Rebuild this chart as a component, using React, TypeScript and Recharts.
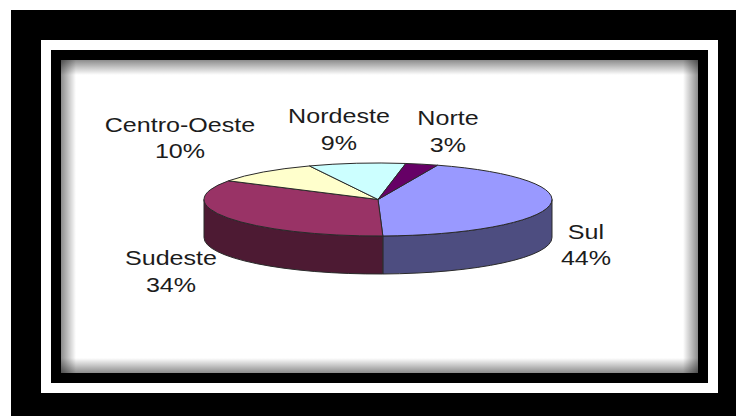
import React from "react";
import { PieChart, Pie } from "recharts";

// Regional shares, clockwise from the upper right of the disc
const regions = ["Sul", "Sudeste", "Centro-Oeste", "Nordeste", "Norte"];
const shares = [44, 34, 10, 9, 3];
const topColors = ["#9999FF", "#993366", "#FFFFCC", "#CCFFFF", "#660066"];
const sideColors = ["#4D4D80", "#4D1A33", "#80806A", "#6A8080", "#330033"];

const rows = regions.map((name, i) => ({
  name,
  value: shares[i],
  fill: topColors[i],
  side: sideColors[i],
}));

// Disc geometry: flattened circle plus the height of its rim
const CX = 378;
const CY = 199.5;
const RX = 174;
const RY = 36.5;
const DEPTH = 38;
const EDGE = "#2a2a2a";

// Label centre x and the baselines of its two lines
const labelPlace: Record<string, [number, number, number]> = {
  Sul: [586, 239, 265],
  Sudeste: [171, 265, 292],
  "Centro-Oeste": [180, 132, 158],
  Nordeste: [339, 123, 150],
  Norte: [448, 125, 152],
};

const TEXT_SIZE = 21;
const TEXT_STRETCH = 1.195;

const rad = (a: number) => (a * Math.PI) / 180;
const px = (cx: number, a: number) => cx + RX * Math.cos(rad(a));
const py = (cy: number, a: number) => cy - RY * Math.sin(rad(a));

// Top wedge and, for the near half of the disc, the visible rim below it
function EllipticSector(props: any) {
  const { cx, cy, startAngle, endAngle, fill, side } = props;
  const large = Math.abs(startAngle - endAngle) > 180 ? 1 : 0;
  const top =
    `M${cx},${cy} L${px(cx, startAngle)},${py(cy, startAngle)} ` +
    `A${RX},${RY} 0 ${large} 1 ${px(cx, endAngle)},${py(cy, endAngle)} Z`;
  const from = Math.min(startAngle, 0);
  const to = Math.max(endAngle, -180);
  let rim = "";
  if (from > to) {
    rim =
      `M${px(cx, from)},${py(cy, from)} ` +
      `A${RX},${RY} 0 0 1 ${px(cx, to)},${py(cy, to)} ` +
      `L${px(cx, to)},${py(cy, to) + DEPTH} ` +
      `A${RX},${RY} 0 0 0 ${px(cx, from)},${py(cy, from) + DEPTH} Z`;
  }
  return (
    <g>
      {rim && <path d={rim} fill={side} stroke={EDGE} strokeWidth={1} />}
      <path d={top} fill={fill} stroke={EDGE} strokeWidth={1} />
    </g>
  );
}

function RegionLabel(props: any) {
  const { name, value } = props;
  const place = labelPlace[name];
  if (!place) return null;
  const [x, y1, y2] = place;
  const common = {
    textAnchor: "middle" as const,
    fontFamily: "'Liberation Sans', Arial, sans-serif",
    fontSize: TEXT_SIZE,
    fill: "#1c1c1c",
  };
  return (
    <g>
      <text transform={`translate(${x},${y1}) scale(${TEXT_STRETCH},1)`} {...common}>
        {name}
      </text>
      <text transform={`translate(${x},${y2}) scale(${TEXT_STRETCH},1)`} {...common}>
        {`${value}%`}
      </text>
    </g>
  );
}

const box = (
  left: number,
  top: number,
  right: number,
  bottom: number,
  style: React.CSSProperties,
): React.CSSProperties => ({
  position: "absolute",
  left,
  top,
  width: right - left,
  height: bottom - top,
  ...style,
});

// Soft grey fade running in from each edge of the inner panel
const fade = (dir: string) =>
  `linear-gradient(to ${dir}, rgba(0,0,0,0.45), rgba(0,0,0,0) 15px)`;

export default function App() {
  return (
    <div style={{ position: "absolute", left: 0, top: 0, width: 736, height: 416, overflow: "hidden", background: "#fff" }}>
      <div style={box(11, 10, 736, 416, { background: "#000" })} />
      <div style={box(41, 40, 718, 393, { background: "#fff" })} />
      <div style={box(51, 50, 708, 383, { background: "#000" })} />
      <div
        style={box(61, 60, 698, 373, {
          backgroundColor: "#fff",
          backgroundImage: [fade("right"), fade("left"), fade("bottom"), fade("top")].join(","),
        })}
      />
      <div style={{ position: "absolute", left: 0, top: 0 }}>
        <PieChart width={736} height={416} margin={{ top: 0, right: 0, bottom: 0, left: 0 }}>
          <Pie
            data={rows}
            dataKey="value"
            nameKey="name"
            cx={CX}
            cy={CY}
            innerRadius={0}
            outerRadius={RX}
            startAngle={70}
            endAngle={-290}
            isAnimationActive={false}
            shape={EllipticSector}
            label={RegionLabel}
            labelLine={false}
          />
        </PieChart>
      </div>
    </div>
  );
}
